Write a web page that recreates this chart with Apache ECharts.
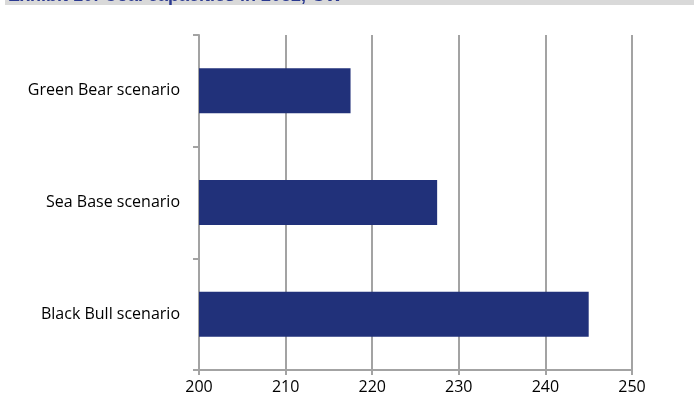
<!DOCTYPE html>
<html>
<head>
<meta charset="utf-8">
<script src="https://cdn.jsdelivr.net/npm/echarts@6/dist/echarts.min.js"></script>
<style>
  html, body { margin: 0; padding: 0; background: #fff; }
  #chart { width: 694px; height: 404px; }
</style>
</head>
<body>
<div id="chart"></div>
<script>
// Coal capacities by scenario (GW)
const scenarios = ['Black Bull scenario', 'Sea Base scenario', 'Green Bear scenario'];
const capacities = [245, 227.5, 217.5];
const valueTicks = { min: 200, max: 250, step: 10 };
const titleText = 'Exhibit 10: Coal capacities in 2032, GW';

const chart = echarts.init(document.getElementById('chart'), null, { renderer: 'canvas' });
const gridColor = '#a3a3a3';
const font = '"Open Sans", "Noto Sans", sans-serif';

chart.setOption({
  animation: false,
  graphic: [
    { type: 'rect', left: 5, top: 0, shape: { width: 689, height: 5 }, style: { fill: '#d9d9d9' }, z: 10 },
    { type: 'text', left: 8, top: -12.5, style: { text: titleText, fill: '#2b3990', font: 'bold 18px "Liberation Sans", sans-serif' }, z: 11 },
    { type: 'rect', left: 0, top: -20, shape: { width: 694, height: 20 }, style: { fill: '#fff' }, z: 12 }
  ],
  grid: { left: 199, right: 62, top: 35, bottom: 34, containLabel: false },
  xAxis: {
    type: 'value',
    min: valueTicks.min,
    max: valueTicks.max,
    interval: valueTicks.step,
    axisLine: { show: true, lineStyle: { color: gridColor, width: 2 } },
    axisTick: { show: true, length: 5, lineStyle: { color: gridColor, width: 2 } },
    splitLine: { show: true, lineStyle: { color: gridColor, width: 2 } },
    axisLabel: { color: '#000', fontSize: 16, fontFamily: font, margin: 9 }
  },
  yAxis: {
    type: 'category',
    data: scenarios,
    axisLine: { show: true, lineStyle: { color: gridColor, width: 2 } },
    axisTick: { show: true, length: 6, lineStyle: { color: gridColor, width: 2 } },
    axisLabel: { color: '#000', fontSize: 16, fontFamily: font, margin: 19 }
  },
  series: [{
    type: 'bar',
    data: capacities,
    barWidth: 45,
    itemStyle: { color: '#21317a' }
  }]
});
</script>
</body>
</html>
